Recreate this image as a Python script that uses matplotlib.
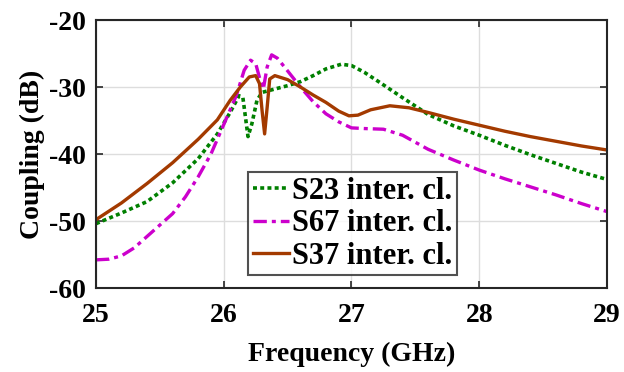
import matplotlib
matplotlib.use("Agg")
import matplotlib.pyplot as plt

f23 = [25.0, 25.2, 25.4, 25.6, 25.8, 25.95, 26.05, 26.12, 26.15, 26.19, 26.22, 26.26, 26.3, 26.4,
       26.5, 26.6, 26.7, 26.8, 26.92, 27.0, 27.1, 27.22, 27.4, 27.6, 27.8, 28.0, 28.2, 28.4, 28.6, 28.8, 29.0]
s23 = [-50.4, -48.8, -47.1, -44.3, -40.7, -37.0, -33.8, -31.3, -31.6, -37.4, -35.5, -32.0, -30.8, -30.3,
       -29.8, -29.2, -28.3, -27.3, -26.6, -26.8, -27.8, -29.3, -31.6, -34.1, -35.8, -37.2, -38.7, -40.1, -41.4, -42.7, -43.8]

f67 = [25.0, 25.1, 25.2, 25.3, 25.4, 25.5, 25.6, 25.7, 25.8, 25.9, 26.0, 26.1, 26.16, 26.21, 26.25, 26.28,
       26.31, 26.34, 26.375, 26.42, 26.5, 26.6, 26.7, 26.8, 26.9, 27.0, 27.1, 27.25, 27.4, 27.6, 27.8, 28.0,
       28.2, 28.4, 28.6, 28.8, 29.0]
s67 = [-55.8, -55.7, -55.2, -54.0, -52.3, -50.6, -48.9, -46.4, -43.4, -40.0, -35.6, -31.2, -27.5, -26.0, -26.5, -28.6,
       -30.3, -27.0, -25.2, -25.7, -27.6, -30.0, -32.2, -34.0, -35.2, -36.1, -36.2, -36.3, -37.2, -39.3, -40.9, -42.4,
       -43.7, -44.9, -46.1, -47.4, -48.6]

f37 = [25.0, 25.2, 25.4, 25.6, 25.8, 25.95, 26.05, 26.13, 26.2, 26.25, 26.28, 26.3, 26.32, 26.34, 26.36, 26.4,
       26.5, 26.6, 26.7, 26.8, 26.9, 26.98, 27.05, 27.15, 27.3, 27.45, 27.6, 27.8, 28.0, 28.2, 28.4, 28.6, 28.8, 29.0]
s37 = [-49.8, -47.3, -44.4, -41.3, -37.8, -34.9, -32.0, -30.0, -28.5, -28.3, -29.5, -33.5, -37.0, -33.0, -28.8, -28.3,
       -28.9, -30.0, -31.2, -32.3, -33.6, -34.3, -34.2, -33.4, -32.8, -33.1, -33.8, -34.8, -35.7, -36.6, -37.4, -38.1, -38.8, -39.4]

labels = ["S23 inter. cl.", "S67 inter. cl.", "S37 inter. cl."]
xticks = [25, 26, 27, 28, 29]
yticks = [-60, -50, -40, -30, -20]

plt.rcParams['font.family'] = ['Liberation Serif', 'DejaVu Serif']
plt.rcParams['font.weight'] = 'bold'
plt.rcParams['axes.unicode_minus'] = False

fig = plt.figure(figsize=(6.24, 3.72), dpi=100)
ax = fig.add_axes([0.1538, 0.2258, 0.819, 0.7204])

ax.plot(f23, s23, color='#008000', lw=2.6, linestyle=(0, (1.1, 0.9)), label=labels[0])
ax.plot(f67, s67, color='#CC00CC', lw=2.4, linestyle=(0, (4, 1.5, 1.2, 1.5)), label=labels[1])
ax.plot(f37, s37, color='#A33A00', lw=2.4, linestyle='-', label=labels[2])

ax.set_xlim(25, 29)
ax.set_ylim(-60, -20)
ax.set_xticks(xticks)
ax.set_yticks(yticks)
ax.grid(True, color='#DDDDDD', lw=1.0)
ax.set_axisbelow(True)
ax.tick_params(direction='in', length=5, width=1.2, top=True, right=True, labelsize=20, color='#262626')
ax.tick_params(axis='x', pad=11)
ax.tick_params(axis='y', pad=7)
for lab in ax.get_xticklabels() + ax.get_yticklabels():
    lab.set_fontweight('bold')
for sp in ax.spines.values():
    sp.set_linewidth(1.5)
    sp.set_color('#262626')

ax.set_xlabel('Frequency (GHz)', fontsize=20, fontweight='bold', labelpad=10)
ax.set_ylabel('Coupling (dB)', fontsize=20, fontweight='bold', labelpad=3)

leg = ax.legend(loc='upper left', bbox_to_anchor=(0.2975, 0.433),
                fontsize=22, frameon=True, fancybox=False, edgecolor='#262626',
                handlelength=1.2, handletextpad=0.08, borderpad=0.15, labelspacing=0.12, borderaxespad=0)
leg.get_frame().set_linewidth(1.5)
for t in leg.get_texts():
    t.set_fontweight('bold')

fig.savefig('out.png', dpi=100)
